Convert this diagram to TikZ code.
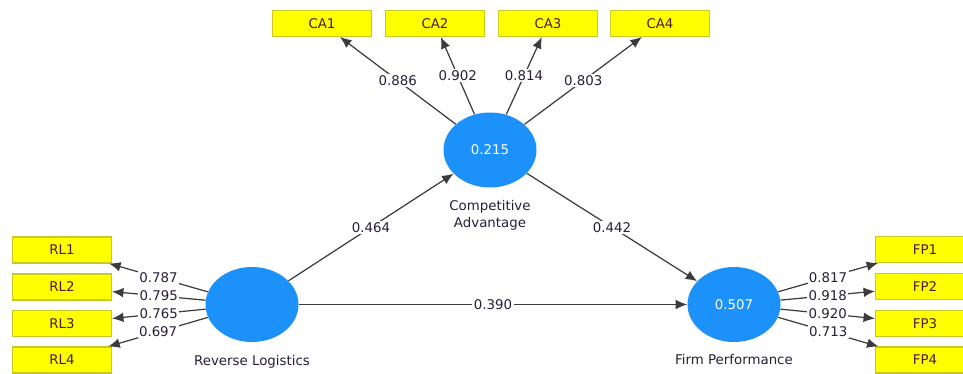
\documentclass[tikz,border=0pt]{standalone}
\usepackage{fontspec}
\setmainfont{DejaVu Sans}
\usepackage{tikz}
\usetikzlibrary{positioning,arrows.meta,shapes.geometric}

\definecolor{boxfill}{RGB}{255,255,0}
\definecolor{boxline}{RGB}{200,200,40}
\definecolor{latentblue}{RGB}{28,145,250}
\definecolor{textdark}{RGB}{40,30,55}
\definecolor{linegray}{RGB}{60,60,60}

\begin{document}
\begin{tikzpicture}[
			indicator/.style={rectangle, draw=boxline, fill=boxfill, line width=0.6pt, minimum width=1.98cm, minimum height=0.52cm, text=textdark!80!red, font=\fontsize{7.6}{9}\selectfont},
			latent/.style={ellipse, fill=latentblue, minimum width=1.86cm, minimum height=1.50cm, inner sep=0pt, text=white, font=\fontsize{7.6}{9}\selectfont},
			description/.style={text=textdark, align=center, font=\fontsize{7.6}{9.4}\selectfont},
			coef/.style={fill=white, inner sep=0.8pt, text=textdark, font=\fontsize{7.6}{9}\selectfont},
			link/.style={draw=linegray, line width=0.7pt, -{Latex[length=6.5pt,width=5.5pt]}},
			]
			\useasboundingbox (0,0) rectangle (19.26,-7.48);
			%Nodes
				\node[latent]		(ca)		at (9.80,-3.00)		{0.215};
				\node[latent]		(rl)		at (5.04,-6.09)		{};
				\node[latent]		(fp)		at (14.68,-6.09)	{0.507};
				\node[description]	(ca-name)	at (9.80,-4.31)		{Competitive\\Advantage};
				\node[description]	(rl-name)	at (5.04,-7.24)		{Reverse Logistics};
				\node[description]	(fp-name)	at (14.68,-7.20)	{Firm Performance};
				\node[indicator]	(ca-1)		at (6.44,-0.47)		{CA1};
				\node[indicator]	(ca-2)		at (8.70,-0.47)		{CA2};
				\node[indicator]	(ca-3)		at (10.96,-0.47)	{CA3};
				\node[indicator]	(ca-4)		at (13.20,-0.47)	{CA4};
				\node[indicator]	(rl-1)		at (1.24,-5.00)		{RL1};
				\node[indicator]	(rl-2)		at (1.24,-5.74)		{RL2};
				\node[indicator]	(rl-3)		at (1.24,-6.47)		{RL3};
				\node[indicator]	(rl-4)		at (1.24,-7.20)		{RL4};
				\node[indicator]	(fp-1)		at (18.50,-4.99)	{FP1};
				\node[indicator]	(fp-2)		at (18.50,-5.73)	{FP2};
				\node[indicator]	(fp-3)		at (18.50,-6.47)	{FP3};
				\node[indicator]	(fp-4)		at (18.50,-7.20)	{FP4};

			%Lines
				\draw[link] (ca) -- node[coef] {0.886} (ca-1);
				\draw[link] (ca) -- node[coef] {0.902} (ca-2);
				\draw[link] (ca) -- node[coef] {0.814} (ca-3);
				\draw[link] (ca) -- node[coef] {0.803} (ca-4);
				\draw[link] (rl) -- node[coef] {0.787} (rl-1);
				\draw[link] (rl) -- node[coef] {0.795} (rl-2);
				\draw[link] (rl) -- node[coef] {0.765} (rl-3);
				\draw[link] (rl) -- node[coef] {0.697} (rl-4);
				\draw[link] (fp) -- node[coef] {0.817} (fp-1);
				\draw[link] (fp) -- node[coef] {0.918} (fp-2);
				\draw[link] (fp) -- node[coef] {0.920} (fp-3);
				\draw[link] (fp) -- node[coef] {0.713} (fp-4);
				\draw[link] (rl) -- node[coef] {0.464} (ca);
				\draw[link] (ca) -- node[coef] {0.442} (fp);
				\draw[link] (rl) -- node[coef] {0.390} (fp);
		\end{tikzpicture}
\end{document}
